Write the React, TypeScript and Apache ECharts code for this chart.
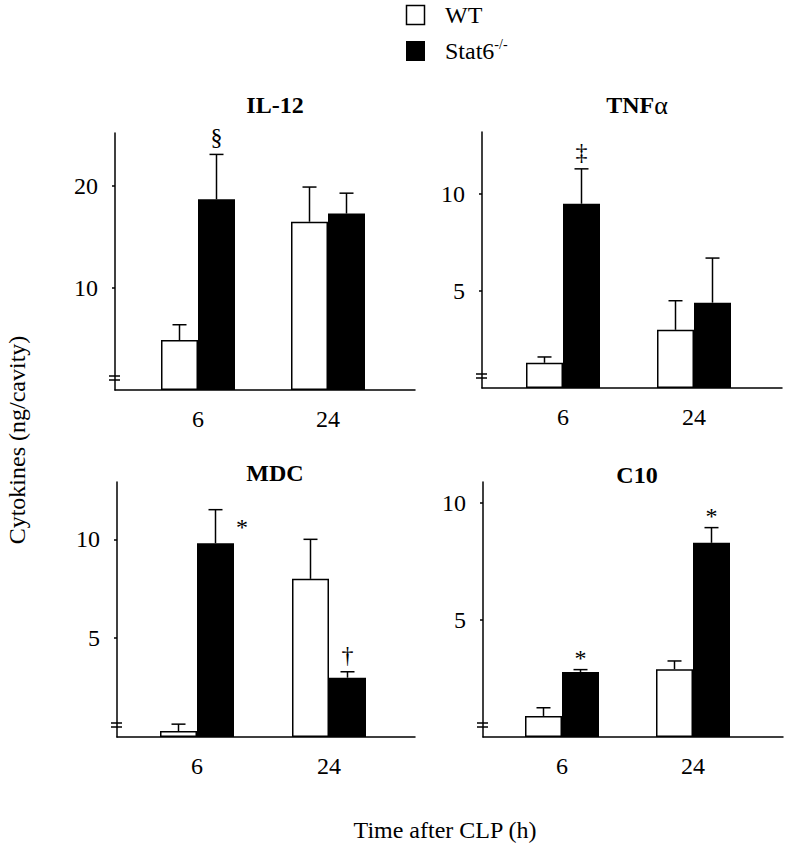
import React, { useEffect, useRef } from "react";
import * as echarts from "echarts";

// ---------- data ----------
const categories = ["6", "24"];
const groupNames = ["WT", "Stat6-/-"];

const il12WT = [4.9, 16.5];
const il12WTsem = [1.5, 3.4];
const il12Stat6 = [18.7, 17.3];
const il12Stat6sem = [4.4, 2.0];

const tnfWT = [1.3, 3.0];
const tnfWTsem = [0.3, 1.5];
const tnfStat6 = [9.5, 4.4];
const tnfStat6sem = [1.8, 2.3];

const mdcWT = [0.3, 8.0];
const mdcWTsem = [0.35, 2.0];
const mdcStat6 = [9.8, 3.0];
const mdcStat6sem = [1.7, 0.3];

const c10WT = [0.9, 2.9];
const c10WTsem = [0.35, 0.35];
const c10Stat6 = [2.78, 8.3];
const c10Stat6sem = [0.1, 0.65];

const il12Ticks = [10, 20];
const tnfTicks = [5, 10];
const mdcTicks = [5, 10];
const c10Ticks = [5, 10];

const il12Max = 25.2;
const tnfMax = 13.2;
const mdcMax = 12.9;
const c10Max = 10.9;

// significance marks: category index, group index (0 WT, 1 Stat6), symbol
const il12Marks = [{ cat: 0, group: 1, text: "§", side: "top" }];
const tnfMarks = [{ cat: 0, group: 1, text: "‡", side: "top" }];
const mdcMarks = [
  { cat: 0, group: 1, text: "*", side: "right" },
  { cat: 1, group: 1, text: "†", side: "top" },
];
const c10Marks = [
  { cat: 0, group: 1, text: "*", side: "top" },
  { cat: 1, group: 1, text: "*", side: "top" },
];

// ---------- layout / style ----------
const FONT = "'Liberation Serif', 'Times New Roman', Times, serif";
const BAR_W = 37;
const CAP_HALF = 7;

const panels = [
  { title: "IL-12", wt: il12WT, wtSem: il12WTsem, st: il12Stat6, stSem: il12Stat6sem, ticks: il12Ticks, max: il12Max, marks: il12Marks,
    axisLeft: 115, top: 133, width: 300, height: 257, innerLeft: 133, innerWidth: 260, titleX: 275, titleY: 105 },
  { title: "TNFα", wt: tnfWT, wtSem: tnfWTsem, st: tnfStat6, stSem: tnfStat6sem, ticks: tnfTicks, max: tnfMax, marks: tnfMarks,
    axisLeft: 482, top: 132, width: 300, height: 256, innerLeft: 497.5, innerWidth: 262, titleX: 637, titleY: 105 },
  { title: "MDC", wt: mdcWT, wtSem: mdcWTsem, st: mdcStat6, stSem: mdcStat6sem, ticks: mdcTicks, max: mdcMax, marks: mdcMarks,
    axisLeft: 117, top: 482, width: 298, height: 255, innerLeft: 131, innerWidth: 264, titleX: 275, titleY: 473 },
  { title: "C10", wt: c10WT, wtSem: c10WTsem, st: c10Stat6, stSem: c10Stat6sem, ticks: c10Ticks, max: c10Max, marks: c10Marks,
    axisLeft: 483, top: 482, width: 300, height: 255, innerLeft: 496.5, innerWidth: 262, titleX: 637, titleY: 475 },
];

function buildOption() {
  const grid: any[] = [];
  const xAxis: any[] = [];
  const yAxis: any[] = [];
  const series: any[] = [];
  const graphic: any[] = [];

  panels.forEach((p, i) => {
    const outer = 2 * i;
    const inner = 2 * i + 1;
    grid.push({ left: p.axisLeft, top: p.top, width: p.width, height: p.height });
    grid.push({ left: p.innerLeft, top: p.top, width: p.innerWidth, height: p.height });

    // outer axes: draw axis lines, y ticks and labels
    xAxis.push({
      type: "value", gridIndex: outer, min: 0, max: 1,
      axisLine: { show: true, onZero: false, lineStyle: { color: "#000", width: 1.5 } },
      axisTick: { show: false }, axisLabel: { show: false }, splitLine: { show: false },
    });
    yAxis.push({
      type: "value", gridIndex: outer, min: 0, max: p.max,
      axisLine: { show: true, lineStyle: { color: "#000", width: 1.5 } },
      axisTick: { show: true, length: 3, customValues: p.ticks, lineStyle: { color: "#000", width: 1.5 } },
      axisLabel: { show: true, customValues: p.ticks, margin: 17, color: "#000", fontFamily: FONT, fontSize: 24 },
      splitLine: { show: false },
    });
    // inner axes: categories and bars
    xAxis.push({
      type: "category", gridIndex: inner, data: categories,
      axisLine: { show: false }, axisTick: { show: false },
      axisLabel: { show: true, margin: 17, color: "#000", fontFamily: FONT, fontSize: 24 },
    });
    yAxis.push({ type: "value", gridIndex: inner, min: 0, max: p.max, show: false, splitLine: { show: false } });

    series.push({
      type: "bar", name: groupNames[0], xAxisIndex: inner, yAxisIndex: inner, data: p.wt,
      barWidth: BAR_W, barGap: "0%",
      itemStyle: { color: "#fff", borderColor: "#000", borderWidth: 1.5 },
    });
    series.push({
      type: "bar", name: groupNames[1], xAxisIndex: inner, yAxisIndex: inner, data: p.st,
      barWidth: BAR_W, barGap: "0%",
      itemStyle: { color: "#000", borderColor: "#000", borderWidth: 1.5 },
    });

    const errData: any[] = [];
    categories.forEach((_, c) => {
      errData.push([c, p.wt[c], p.wtSem[c], 0]);
      errData.push([c, p.st[c], p.stSem[c], 1]);
    });
    const marks = p.marks;
    series.push({
      type: "custom", xAxisIndex: inner, yAxisIndex: inner, data: errData, z: 5,
      renderItem: (params: any, api: any) => {
        const c = api.value(0);
        const m = api.value(1);
        const s = api.value(2);
        const g = api.value(3);
        const p0 = api.coord([c, m]);
        const p1 = api.coord([c, m + s]);
        const x = p0[0] + (g === 0 ? -1 : 1) * (BAR_W / 2);
        const children: any[] = [
          { type: "line", shape: { x1: x, y1: p0[1], x2: x, y2: p1[1] }, style: { stroke: "#000", lineWidth: 1.5 } },
          { type: "line", shape: { x1: x - CAP_HALF, y1: p1[1], x2: x + CAP_HALF, y2: p1[1] }, style: { stroke: "#000", lineWidth: 1.5 } },
        ];
        marks.forEach((mk) => {
          if (mk.cat === c && mk.group === g) {
            if (mk.side === "top") {
              const gap = mk.text === "*" ? 0 : 5;
              children.push({
                type: "text", x: x, y: p1[1] - gap,
                style: { text: mk.text, fontFamily: FONT, fontSize: 24, fill: "#000", align: "center", verticalAlign: "bottom" },
              });
            } else {
              children.push({
                type: "text", x: x + BAR_W / 2 + 8, y: p1[1] + 17,
                style: { text: mk.text, fontFamily: FONT, fontSize: 24, fill: "#000", align: "center", verticalAlign: "middle" },
              });
            }
          }
        });
        return { type: "group", children };
      },
    });

    // break marks on y axis
    const by = p.top + p.height - 12;
    graphic.push({ type: "line", shape: { x1: p.axisLeft - 6, y1: by - 2, x2: p.axisLeft + 5, y2: by - 2 }, style: { stroke: "#000", lineWidth: 1.5 } });
    graphic.push({ type: "line", shape: { x1: p.axisLeft - 6, y1: by + 2, x2: p.axisLeft + 5, y2: by + 2 }, style: { stroke: "#000", lineWidth: 1.5 } });

    // title
    if (p.title === "TNFα") {
      graphic.push({
        type: "text", x: p.titleX, y: p.titleY,
        style: {
          text: "{b|TNF}{a|α}", align: "center", verticalAlign: "middle",
          rich: {
            b: { fontFamily: FONT, fontSize: 24, fontWeight: "bold", fill: "#000" },
            a: { fontFamily: FONT, fontSize: 26, fill: "#000" },
          },
        },
      });
    } else {
      graphic.push({
        type: "text", x: p.titleX, y: p.titleY,
        style: { text: p.title, fontFamily: FONT, fontSize: 24, fontWeight: "bold", fill: "#000", align: "center", verticalAlign: "middle" },
      });
    }
  });

  // legend
  graphic.push({ type: "rect", shape: { x: 406.5, y: 5.5, width: 18, height: 19 }, style: { fill: "#fff", stroke: "#000", lineWidth: 1.5 } });
  graphic.push({ type: "rect", shape: { x: 406, y: 41, width: 19, height: 20 }, style: { fill: "#000" } });
  graphic.push({
    type: "text", x: 445, y: 15,
    style: { text: groupNames[0], fontFamily: FONT, fontSize: 24, fill: "#000", align: "left", verticalAlign: "middle" },
  });
  graphic.push({
    type: "text", x: 445, y: 51,
    style: {
      text: "{n|Stat6}{s|-/-}", align: "left", verticalAlign: "middle",
      rich: {
        n: { fontFamily: FONT, fontSize: 24, fill: "#000", lineHeight: 28 },
        s: { fontFamily: FONT, fontSize: 14, fill: "#000", verticalAlign: "top", lineHeight: 28, padding: [0, 0, 12, 0] },
      },
    },
  });

  // axis titles
  graphic.push({
    type: "text", x: 17, y: 440, rotation: Math.PI / 2,
    style: { text: "Cytokines (ng/cavity)", fontFamily: FONT, fontSize: 24, fill: "#000", align: "center", verticalAlign: "middle" },
  });
  graphic.push({
    type: "text", x: 445, y: 830,
    style: { text: "Time after CLP (h)", fontFamily: FONT, fontSize: 24, fill: "#000", align: "center", verticalAlign: "middle" },
  });

  return {
    animation: false,
    backgroundColor: "#fff",
    grid, xAxis, yAxis, series, graphic,
  };
}

export default function App() {
  const ref = useRef<HTMLDivElement>(null);
  useEffect(() => {
    if (!ref.current) return;
    const chart = echarts.init(ref.current, undefined, { renderer: "svg" });
    chart.setOption(buildOption() as any);
    return () => chart.dispose();
  }, []);
  return (
    <div
      ref={ref}
      style={{ position: "absolute", left: 0, top: 0, width: 786, height: 853, background: "#fff" }}
    />
  );
}
